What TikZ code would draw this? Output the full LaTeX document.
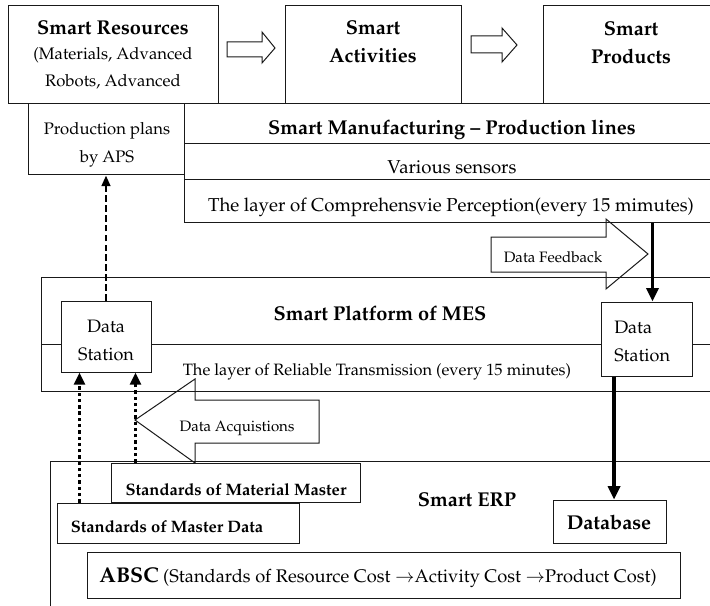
\documentclass[tikz,border=0pt]{standalone}
\usepackage[T1]{fontenc}
\usepackage{mathpazo}
\usetikzlibrary{arrows.meta,fit,calc}

\begin{document}
\begin{tikzpicture}[x=0.75pt,y=-0.75pt,
  box/.style={draw=black!90, line width=0.75pt, inner sep=0pt},
  station/.style={box, fill=white},
  txt/.style={font=\fontsize{#1}{#1}\selectfont, anchor=base, inner sep=0pt},
  txt/.default=14,
  btxt/.style={font=\fontsize{#1}{#1}\selectfont\bfseries, anchor=base, inner sep=0pt},
  btxt/.default=15,
  blockarrow/.style={draw=black!90, line width=0.75pt, line join=miter},
  fat/.style={line width=2.4pt, -{Triangle[length=10pt,width=9pt]}},
  dotline/.style={line width=2.5pt, dash pattern=on 2.5pt off 2.2pt, -{Triangle[length=9pt,width=8pt]}},
  dashline/.style={line width=1.8pt, dash pattern=on 5pt off 2.4pt, -{Triangle[length=8pt,width=6.5pt]}}]
\useasboundingbox (0,0) rectangle (710,606);
% top row
\node[box, fit={(8,6) (218,104)}] (res) {};
\node[box, fit={(285,6) (461,104)}] (act) {};
\node[box, fit={(543,6) (716,104)}] (prd) {};
\node[btxt] (resT) at (113,34.5) {Smart Resources};
\node[txt=12.5] (resA) at (113,60) {(Materials, Advanced};
\node[txt=12.5] (resB) at (113,87) {Robots, Advanced};
\node[btxt] (actA) at (373,35) {Smart};
\node[btxt] (actB) at (373,63) {Activities};
\node[btxt] (prdA) at (631,36) {Smart};
\node[btxt] (prdB) at (631,64) {Products};
\draw[blockarrow] (227,42) -- (262,42) -- (262,32) -- (275,48) -- (262,63) -- (262,57) -- (227,57) -- cycle;
\draw[blockarrow] (471,36) -- (502,36) -- (502,28) -- (517,45) -- (502,62) -- (502,53) -- (471,53) -- cycle;
% production lines
\node[box, fit={(28,104) (184,175)}] (aps) {};
\node[txt=12.5] (apsA) at (107,135) {Production plans};
\node[txt=12.5] (apsB) at (107,162) {by APS};
\node[box, fit={(184,104) (716,144)}] (mfg) {};
\node[box, fit={(184,144) (716,180)}] (sens) {};
\node[box, fit={(184,180) (716,222)}] (perc) {};
\node[btxt] (mfgT) at (452,135) {Smart Manufacturing -- Production lines};
\node[txt] (sensT) at (452,174) {Various sensors};
\node[txt] (percT) at (451,211) {The layer of Comprehensvie Perception(every 15 mimutes)};
% MES
\node[box, fit={(41,277) (716,344)}] (mes) {};
\node[box, fit={(41,344) (716,391)}] (trans) {};
\node[btxt] (mesT) at (380,320) {Smart Platform of MES};
\node[txt=12.3] (transT) at (377,375) {The layer of Reliable Transmission (every 15 minutes)};
\node[station, fit={(61,301) (151,372)}] (dsL) {};
\node[txt=13.5] (dsLA) at (106,332) {Data};
\node[txt=13.5] (dsLB) at (106,360) {Station};
\node[station, fit={(601,302) (692,376)}] (dsR) {};
\node[txt=13.5, anchor=base west] (dsRA) at (614,333) {Data};
\node[txt=13.5, anchor=base west] (dsRB) at (614,361) {Station};
\draw[blockarrow] (491,237) -- (606,237) -- (606,219) -- (648,254) -- (606,289) -- (606,272) -- (491,272) -- cycle;
\node[txt=11.3] (fbT) at (553,262) {Data Feedback};
\draw[blockarrow] (319,400) -- (195,400) -- (195,379) -- (135,420) -- (195,463) -- (195,443) -- (319,443) -- cycle;
\node[txt=11.3] (acqT) at (237,431) {Data Acquistions};
% ERP
\node[box, fit={(50,461) (716,612)}] (erp) {};
\node[box, fit={(111,463) (360,502)}] (smm) {};
\node[box, fit={(57,503) (299,543)}] (smd) {};
\node[box, fit={(553,500) (666,543)}] (db) {};
\node[box, fit={(87,552) (680,598)}] (absc) {};
\node[btxt=12.4] (smmT) at (236,495) {Standards of Material Master};
\node[btxt=12.4] (smdT) at (167,532) {Standards of Master Data};
\node[btxt] (erpT) at (467,506) {Smart ERP};
\node[btxt] (dbT) at (609,529) {Database};
\node[txt=13.7] (abscT) at (378,582) {{\fontsize{16}{16}\selectfont\bfseries ABSC} (Standards of Resource Cost $\rightarrow$Activity Cost $\rightarrow$Product Cost)};
% connectors
\draw[dashline] (dsL.north) -- (aps.south);
\coordinate (inA) at ($(dsL.south west)+(19,0)$);
\coordinate (inB) at ($(dsL.south east)+(-16,0)$);
\draw[dotline] (inA |- smd.north) -- (inA);
\draw[dotline] (inB |- smm.north) -- (inB);
\draw[fat] ([xshift=4.5pt]dsR.north |- perc.south) -- ([xshift=4.5pt]dsR.north);
\draw[fat] ([xshift=3.4pt]db.north |- dsR.south) -- ([xshift=3.4pt]db.north);
\end{tikzpicture}
\end{document}
